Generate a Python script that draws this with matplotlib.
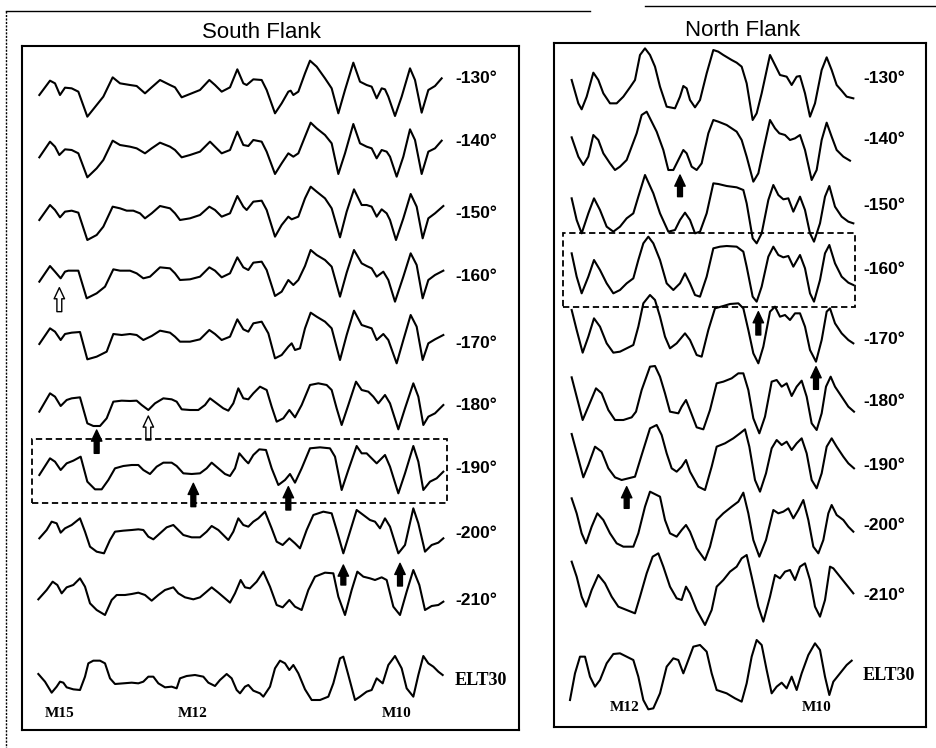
import matplotlib
matplotlib.use("Agg")
import matplotlib.pyplot as plt
from matplotlib.patches import Rectangle, FancyArrowPatch
from matplotlib.lines import Line2D

# profiles: (along-track distance, anomaly) -- arbitrary units
# ---- South Flank ----
s130 = [(118,-50),(150,-7),(165,-15),(180,-50),(195,-28),(215,-30),(235,-40),(262,-115),(290,-80),(310,-55),
        (338,3),(360,-15),(390,-20),(410,-23),(435,-45),(455,-27),(480,-5),(510,-20),(525,-27),(545,-57),
        (570,-47),(600,-35),(628,-5),(645,-20),(665,-40),(690,-27),(712,27),(730,-15),(740,-20),(760,-3),
        (785,-5),(800,-35),(825,-105),(845,-75),(865,-40),(872,-37),(880,-50),(895,-40),(915,15),(930,53),
        (950,35),(975,0),(995,-30),(1015,-105),(1035,-35),(1060,47),(1080,-10),(1100,-20),(1115,-25),(1130,-60),
        (1145,-30),(1155,-33),(1165,-55),(1185,-113),(1205,-55),(1230,30),(1245,-5),(1265,-103),(1285,-35),(1305,-23),
        (1325,0)]
s140 = [(118,-47),(150,0),(165,-15),(178,-40),(195,-23),(215,-25),(235,-35),(262,-107),(290,-80),(310,-55),
        (338,3),(360,-10),(390,-15),(410,-20),(435,-35),(455,-20),(480,-3),(510,-15),(525,-25),(545,-47),
        (570,-40),(600,-30),(630,0),(645,-15),(665,-35),(690,-25),(712,30),(730,-10),(745,-13),(760,5),
        (785,0),(800,-30),(825,-97),(845,-65),(865,-35),(880,-45),(895,-35),(915,15),(932,57),(950,40),
        (975,20),(995,-5),(1015,-97),(1035,-35),(1060,53),(1080,-5),(1100,-15),(1115,-20),(1130,-50),(1145,-25),
        (1160,-30),(1170,-45),(1190,-105),(1210,-45),(1230,37),(1245,5),(1265,-97),(1285,-30),(1305,-20),(1325,3)]
s150 = [(118,-20),(150,25),(165,10),(180,-12),(195,5),(215,8),(235,2),(262,-80),(290,-65),(310,-40),
        (338,20),(360,15),(380,8),(400,8),(420,0),(435,-15),(455,0),(480,22),(510,15),(525,0),
        (540,-20),(570,-15),(600,-5),(628,20),(645,10),(665,-10),(690,0),(712,52),(730,20),(740,10),
        (760,35),(785,38),(800,10),(825,-70),(845,-35),(865,-10),(875,-18),(895,-10),(915,45),(932,80),
        (950,65),(975,45),(995,15),(1020,-72),(1040,5),(1062,72),(1085,25),(1100,25),(1115,20),(1130,-10),
        (1145,12),(1160,0),(1170,-20),(1188,-80),(1210,-15),(1232,58),(1250,20),(1268,-75),(1285,-15),(1305,0),
        (1330,22)]
s160 = [(118,-15),(150,32),(165,15),(182,-5),(195,15),(205,18),(235,18),(260,-65),(290,-50),(315,-30),
        (340,22),(360,18),(390,18),(410,10),(430,-5),(450,0),(480,28),(510,25),(525,10),(540,-10),
        (570,-8),(600,0),(628,28),(645,18),(665,-2),(690,10),(712,58),(730,28),(745,20),(760,42),
        (785,45),(800,20),(825,-58),(845,-45),(865,-10),(880,-25),(895,-10),(915,32),(932,80),(950,65),
        (975,50),(995,30),(1020,-60),(1040,12),(1062,80),(1085,40),(1100,32),(1115,25),(1130,0),(1150,15),
        (1165,-10),(1185,-75),(1210,0),(1232,70),(1250,35),(1268,-65),(1285,-10),(1305,5),(1330,18)]
s170 = [(118,-2),(150,45),(165,35),(182,10),(195,28),(215,32),(240,34),(262,-48),(290,-40),(320,-25),
        (340,28),(365,25),(390,28),(410,25),(430,10),(455,22),(480,38),(510,32),(525,20),(540,5),
        (570,5),(600,12),(628,40),(645,28),(665,10),(690,20),(712,72),(730,42),(745,35),(760,60),
        (785,65),(805,30),(825,-45),(845,-35),(865,-10),(875,0),(885,-20),(900,-15),(915,45),(932,92),
        (950,80),(975,65),(995,45),(1020,-50),(1040,25),(1062,98),(1085,55),(1100,50),(1115,45),(1130,10),
        (1150,28),(1165,10),(1190,-60),(1210,10),(1232,85),(1250,50),(1268,-50),(1285,0),(1305,12),(1330,25)]
s180 = [(118,-20),(150,35),(165,25),(182,-3),(200,15),(215,20),(240,23),(262,-55),(280,-63),(300,-63),
        (320,-40),(340,10),(365,13),(390,12),(410,13),(425,0),(445,-15),(465,5),(490,20),(515,17),
        (530,10),(545,-13),(570,-15),(595,-15),(615,0),(630,20),(650,5),(670,-10),(685,-17),(700,5),
        (715,50),(730,20),(745,17),(760,35),(780,55),(800,45),(815,-5),(830,-50),(850,-40),(868,-15),
        (885,-37),(905,0),(930,60),(955,65),(980,60),(995,45),(1010,-10),(1025,-60),(1045,0),(1068,70),
        (1085,45),(1105,40),(1120,25),(1135,5),(1155,30),(1170,5),(1195,-73),(1215,-10),(1240,65),(1255,25),
        (1270,-60),(1285,-35),(1305,-25),(1330,0)]
s190 = [(118,-20),(150,30),(165,20),(182,-5),(200,15),(220,23),(242,35),(262,-40),(285,-63),(305,-63),
        (325,-35),(345,0),(370,7),(395,10),(415,10),(430,-5),(450,-17),(470,5),(490,17),(515,17),
        (530,7),(550,-15),(575,-17),(600,-15),(620,0),(635,17),(655,0),(675,-17),(690,-23),(705,0),
        (718,45),(735,25),(745,15),(760,40),(778,57),(798,55),(815,0),(835,-50),(855,-35),(870,-17),
        (885,-43),(905,0),(930,60),(960,63),(990,60),(1005,35),(1025,-65),(1045,-5),(1070,67),(1085,45),
        (1100,45),(1115,30),(1130,15),(1155,40),(1170,5),(1195,-75),(1215,-15),(1240,67),(1255,20),(1270,-65),
        (1290,-40),(1310,-30),(1330,-10)]
s200 = [(118,-15),(140,10),(155,35),(170,30),(182,2),(195,15),(215,25),(240,45),(255,5),(270,-40),
        (290,-55),(312,-60),(330,-20),(345,5),(370,8),(395,10),(415,12),(430,10),(445,-10),(460,-18),
        (480,0),(500,18),(520,25),(535,10),(550,-5),(575,-12),(600,-12),(620,5),(635,22),(655,10),
        (675,-10),(685,-20),(700,5),(715,45),(730,25),(745,20),(760,35),(775,45),(795,65),(815,15),
        (830,-25),(848,-35),(868,-15),(885,-30),(900,-45),(920,10),(940,55),(970,65),(995,60),(1010,10),
        (1030,-60),(1050,5),(1070,70),(1090,55),(1110,40),(1125,35),(1140,15),(1155,45),(1170,20),(1195,-60),
        (1215,-35),(1240,75),(1255,30),(1275,-55),(1295,-35),(1315,-28),(1330,-15)]
s210 = [(115,2),(140,30),(158,55),(172,45),(185,20),(200,38),(220,45),(240,65),(255,40),(270,-10),
        (290,-30),(315,-45),(335,0),(350,15),(375,15),(395,18),(415,22),(435,15),(455,-2),(475,15),
        (495,30),(520,38),(535,20),(555,8),(580,2),(600,8),(620,25),(635,38),(655,22),(675,5),
        (690,-8),(705,20),(722,60),(735,38),(750,35),(770,55),(790,85),(810,40),(830,-15),(848,-22),
        (868,0),(885,-20),(905,-30),(925,30),(945,70),(975,82),(1000,80),(1015,10),(1035,-45),(1055,30),
        (1072,85),(1090,70),(1110,65),(1125,60),(1145,68),(1160,60),(1180,-20),(1200,-45),(1220,25),(1240,90),
        (1258,45),(1275,-30),(1295,-18),(1315,-15),(1330,-5)]
s_elt = [(115,18),(135,-5),(155,-38),(170,-20),(180,-5),(190,-8),(200,-22),(220,-28),(240,-30),(255,10),
         (265,50),(280,58),(300,58),(315,50),(330,5),(345,-12),(370,-10),(395,-8),(415,-10),(430,-5),
         (445,10),(460,10),(475,-10),(495,-22),(515,-20),(530,-25),(540,5),(560,12),(585,15),(610,10),
         (625,-8),(645,-18),(660,0),(680,18),(695,5),(710,-30),(720,-40),(735,-20),(745,-15),(760,-32),
         (780,-40),(790,-50),(810,-20),(825,35),(840,58),(855,50),(868,30),(880,45),(895,20),(915,-28),
         (935,-60),(960,-60),(985,-50),(1000,-10),(1020,65),(1030,70),(1045,15),(1065,-60),(1080,-50),(1100,-35),
         (1115,-30),(1130,5),(1148,-10),(1165,45),(1185,72),(1205,35),(1220,-25),(1240,-50),(1255,15),(1270,72),
         (1285,50),(1300,40),(1315,25),(1328,15)]

# ---- North Flank ----
n130 = [(335,-5),(355,-75),(365,-93),(380,-55),(400,17),(415,-5),(430,-45),(450,-75),(470,-75),(490,-55),
        (510,-27),(525,-5),(540,70),(555,90),(570,70),(585,35),(600,-25),(620,-85),(645,-90),(660,-55),
        (670,-23),(680,-30),(690,-65),(705,-87),(720,-65),(740,15),(760,85),(775,80),(790,70),(815,55),
        (830,47),(845,35),(860,-15),(878,-125),(890,-105),(905,-45),(930,70),(945,40),(960,10),(980,5),
        (995,-20),(1010,5),(1020,7),(1035,-45),(1050,-115),(1065,-75),(1085,25),(1100,63),(1115,25),(1130,-20),
        (1145,-37),(1160,-55),(1180,-60)]
n140 = [(335,8),(355,-50),(370,-75),(385,-50),(400,15),(415,0),(430,-40),(450,-70),(465,-90),(480,-80),
        (500,-60),(515,-20),(530,20),(545,75),(560,85),(575,55),(590,25),(610,-30),(625,-90),(640,-90),
        (660,-50),(670,-30),(680,-40),(695,-80),(710,-90),(725,-70),(745,20),(760,60),(775,55),(800,45),
        (830,25),(845,0),(860,-50),(880,-125),(895,-100),(910,-30),(930,60),(945,35),(958,20),(975,15),
        (990,0),(1005,5),(1020,15),(1035,-30),(1055,-120),(1070,-90),(1085,0),(1100,52),(1115,10),(1130,-30),
        (1150,-50),(1170,-62)]
n150 = [(335,20),(350,-45),(365,-85),(385,-25),(402,20),(420,-15),(440,-65),(460,-80),(480,-65),(500,-40),
        (520,-25),(535,25),(555,90),(580,35),(600,-25),(625,-80),(645,-75),(660,-45),(675,-23),(690,-45),
        (705,-85),(720,-80),(740,-25),(760,65),(775,63),(800,57),(830,53),(850,45),(860,5),(878,-100),
        (890,-115),(905,-85),(925,15),(940,60),(955,30),(970,17),(985,20),(1000,-20),(1020,25),(1035,-15),
        (1050,-85),(1062,-110),(1080,-55),(1095,25),(1108,57),(1125,-5),(1145,-35),(1165,-50),(1180,-55)]
n160 = [(335,50),(350,-20),(365,-70),(385,-20),(402,30),(420,0),(440,-40),(460,-70),(480,-60),(500,-40),
        (520,-25),(535,30),(550,80),(565,100),(580,80),(600,30),(620,-40),(640,-60),(660,-40),(675,-10),
        (690,-40),(705,-75),(720,-80),(740,-20),(760,65),(780,70),(800,72),(830,70),(850,55),(860,10),
        (878,-80),(890,-95),(905,-50),(925,40),(940,70),(955,45),(970,38),(985,42),(1000,10),(1020,45),
        (1035,5),(1050,-70),(1062,-95),(1080,-30),(1095,50),(1108,75),(1125,20),(1145,-20),(1165,-38),(1180,-45)]
n170 = [(335,90),(350,30),(368,-38),(385,10),(402,65),(420,40),(440,-10),(460,-38),(480,-35),(500,-25),
        (520,-15),(535,40),(550,110),(570,135),(585,120),(600,70),(615,10),(630,-25),(650,-10),(675,20),
        (690,0),(710,-45),(725,-50),(745,30),(765,95),(790,102),(810,108),(835,110),(850,95),(865,30),
        (880,-40),(895,-70),(910,-20),(930,85),(945,100),(960,70),(975,75),(990,60),(1005,80),(1020,80),
        (1035,40),(1050,-30),(1068,-65),(1085,0),(1100,85),(1110,95),(1125,50),(1145,20),(1165,0),(1180,-10)]
n180 = [(335,73),(350,15),(368,-55),(385,-15),(408,40),(425,25),(445,-25),(465,-55),(490,-55),(515,-47),
        (528,-30),(545,35),(570,105),(585,107),(600,75),(615,25),(630,-30),(655,-35),(665,-15),(678,5),
        (690,-25),(710,-77),(730,-83),(750,-25),(770,55),(790,60),(815,70),(835,85),(850,85),(865,35),
        (880,-50),(898,-95),(915,-45),(935,60),(950,65),(965,45),(980,55),(995,17),(1010,45),(1025,63),
        (1040,15),(1055,-65),(1070,-85),(1085,-35),(1098,45),(1112,75),(1125,45),(1145,15),(1165,-15),(1182,-30)]
n190 = [(335,93),(352,30),(370,-37),(385,0),(405,55),(425,40),(445,-10),(465,-37),(485,-45),(505,-40),
        (525,-35),(545,30),(570,110),(590,120),(605,90),(620,35),(635,-10),(650,-20),(665,-5),(678,15),
        (690,-20),(715,-65),(735,-75),(755,-5),(770,55),(795,65),(820,80),(840,95),(855,107),(868,55),
        (885,-45),(900,-80),(918,-25),(935,50),(950,75),(965,60),(980,70),(995,45),(1010,65),(1025,80),
        (1040,35),(1055,-45),(1070,-70),(1085,-25),(1100,55),(1115,80),(1130,55),(1150,25),(1165,5),(1182,-10)]
n200 = [(335,80),(350,35),(365,-25),(378,-55),(395,-5),(412,35),(430,15),(450,-25),(470,-55),(490,-65),
        (520,-65),(535,-25),(555,55),(570,100),(600,85),(615,15),(630,-25),(650,-35),(665,-15),(678,0),
        (690,-20),(710,-70),(735,-105),(750,-65),(770,15),(790,35),(815,55),(835,70),(850,97),(865,35),
        (880,-45),(898,-95),(918,-45),(940,45),(955,35),(970,40),(985,50),(1000,20),(1015,45),(1030,75),
        (1045,15),(1060,-65),(1075,-85),(1090,-45),(1105,35),(1115,60),(1130,30),(1150,15),(1165,-5),(1180,-20)]
n210 = [(335,100),(350,55),(365,-5),(378,-35),(395,15),(415,60),(435,35),(455,-5),(475,-35),(495,-43),
        (525,-55),(540,-5),(560,65),(578,115),(595,125),(610,85),(630,25),(650,-10),(665,-15),(678,25),
        (690,5),(710,-45),(735,-90),(755,-45),(770,25),(790,45),(810,70),(830,85),(845,110),(860,120),
        (875,55),(895,-35),(910,-80),(930,-5),(945,60),(960,50),(975,70),(990,75),(1005,45),(1020,85),
        (1035,95),(1050,45),(1065,-35),(1080,-65),(1095,-15),(1110,85),(1120,80),(1140,55),(1160,30),(1180,5)]
n_elt = [(330,-75),(345,5),(360,55),(375,55),(390,-5),(405,-35),(420,-15),(440,35),(460,63),(480,65),
         (500,55),(520,45),(535,-5),(550,-75),(565,-103),(580,-100),(600,-55),(620,25),(640,50),(655,45),
         (670,5),(685,45),(700,85),(720,90),(740,70),(755,5),(770,-45),(800,-55),(825,-70),(845,-80),
         (860,-25),(875,55),(890,105),(905,90),(920,15),(935,-55),(950,-35),(965,-23),(980,-40),(995,-5),
         (1010,-45),(1025,5),(1045,60),(1065,95),(1080,75),(1095,-5),(1108,-60),(1120,-20),(1140,5),(1160,30),
         (1175,43)]

row_labels = ["-130°", "-140°", "-150°", "-160°", "-170°", "-180°", "-190°", "-200°", "-210°", "ELT30"]
south_profiles = [s130, s140, s150, s160, s170, s180, s190, s200, s210, s_elt]
north_profiles = [n130, n140, n150, n160, n170, n180, n190, n200, n210, n_elt]
south_rows = [235, 425, 640, 830, 1030, 1215, 1405, 1600, 1800, 2040]
north_rows = [235, 420, 615, 810, 1020, 1205, 1395, 1575, 1785, 2025]

# arrows: (row index, distance, tip anomaly, tail anomaly, open head?)
south_arrows = [(3, 178, -33, -105, True), (5, 290, -75, -145, False), (5, 445, -33, -105, True),
                (6, 580, -45, -115, False), (6, 865, -55, -125, False),
                (7, 1030, -95, -155, False), (7, 1200, -90, -158, False)]
north_arrows = [(1, 660, -105, -170, False), (3, 895, -125, -195, False),
                (4, 1068, -80, -148, False), (6, 500, -65, -130, False)]
# dashed boxes: (row index, x0, x1, top, bottom)
south_box = (6, 95, 1340, 88, -103)
north_box = (3, 308, 1185, 112, -112)

south_marks = [("M15", 180), ("M12", 579), ("M10", 1191)]
north_marks = [("M12", 495), ("M10", 1071)]

W, H = 936, 748
fig = plt.figure(figsize=(9.36, 7.48), dpi=100)
fig.patch.set_facecolor("white")


def make_axes(x0, y0, x1, y1):
    ax = fig.add_axes([x0 / W, 1 - y1 / H, (x1 - x0) / W, (y1 - y0) / H])
    ax.set_xticks([])
    ax.set_yticks([])
    for s in ax.spines.values():
        s.set_linewidth(1.5)
    return ax


def draw_panel(ax, profiles, rows, label_x, arrows, box, marks, mark_y):
    for prof, off, lab in zip(profiles, rows, row_labels):
        xs = [p[0] for p in prof]
        ys = [p[1] - off for p in prof]
        ax.plot(xs, ys, color="black", lw=1.5, solid_joinstyle="round")
        if lab == "ELT30":
            ax.text(label_x, -off, lab, ha="left", va="center", fontsize=13,
                    family="Liberation Serif", weight="bold")
        else:
            ax.text(label_x, -off, lab, ha="left", va="center", fontsize=12.5,
                    family="Liberation Sans", weight="bold")
    for r, x, tip, tail, hollow in arrows:
        off = rows[r]
        arr = FancyArrowPatch((x, tail - off), (x, tip - off),
                              arrowstyle="simple,head_length=0.8,head_width=0.75,tail_width=0.35",
                              mutation_scale=10, shrinkA=0, shrinkB=0,
                              fc="white" if hollow else "black", ec="black", lw=1.0)
        ax.add_patch(arr)
    r, bx0, bx1, btop, bbot = box
    off = rows[r]
    ax.add_patch(Rectangle((bx0, bbot - off), bx1 - bx0, btop - bbot, fill=False,
                           ec="black", lw=1.3, ls=(0, (3.5, 2))))
    for txt, x in marks:
        ax.text(x, mark_y, txt, ha="center", va="center", fontsize=11,
                family="Liberation Serif", weight="bold")


axs = make_axes(22, 46, 519, 730)
axs.set_xlim(66, 1557)
axs.set_ylim(-2190, -138)
draw_panel(axs, south_profiles, south_rows, 1365, south_arrows, south_box, south_marks, -2139)

axn = make_axes(554, 43, 926, 727)
axn.set_xlim(282, 1398)
axn.set_ylim(-2181, -129)
draw_panel(axn, north_profiles, north_rows, 1209, north_arrows, north_box, north_marks, -2123)

fig.text(261 / W, 1 - 33 / H, "South Flank", ha="center", va="center",
         fontsize=16, family="Liberation Sans")
fig.text(743 / W, 1 - 30 / H, "North Flank", ha="center", va="center",
         fontsize=16, family="Liberation Sans")

# outer frame remnants of the scanned page
fig.add_artist(Line2D([6 / W, 590 / W], [1 - 11 / H, 1 - 11 / H], color="black", lw=1.0))
fig.add_artist(Line2D([645 / W, 1.0], [1 - 6 / H, 1 - 6 / H], color="black", lw=1.0))
fig.add_artist(Line2D([6 / W, 6 / W], [1 - 11 / H, 0], color="black", lw=1.0, ls=(0, (1.5, 1))))

fig.savefig("out.png", dpi=100, facecolor="white")
